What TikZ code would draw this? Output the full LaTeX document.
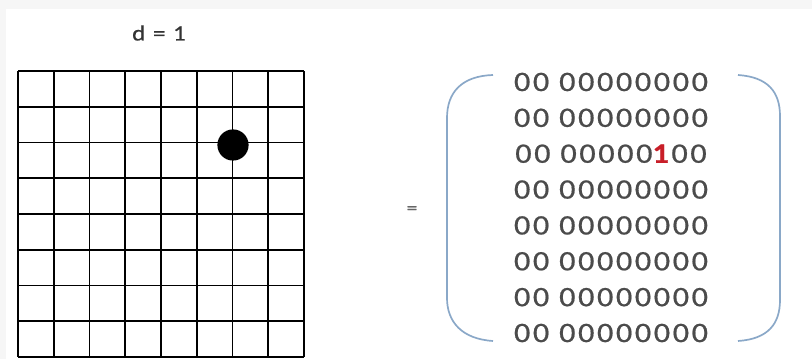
\documentclass[tikz,border=0pt]{standalone}
\usepackage{fontspec}
\setmainfont{Carlito}
\newfontfamily\wideFont[FakeStretch=1.15, LetterSpace=9, FakeBold=0.6]{Carlito}
\usepackage{xcolor}
\definecolor{bracketBlue}{RGB}{138,168,200}
\definecolor{digitGrey}{RGB}{75,75,75}
\definecolor{oneRed}{RGB}{200,30,40}
\definecolor{edgeGrey}{RGB}{246,246,246}

\begin{document}
\begin{tikzpicture}[
    x=0.025cm, y=-0.025cm,
    gridLine/.style={line width=1.4pt, black},
    bracket/.style={line width=1.2pt, bracketBlue},
    digits/.style={font=\wideFont\fontsize{20}{21}\selectfont, text=digitGrey, inner sep=0pt, anchor=center},
    label/.style={font=\wideFont\fontsize{15.5}{16}\selectfont, text=black!80, inner sep=0pt}
]
    % Background
    \fill[edgeGrey] (0,0) rectangle (812,359);
    \fill[white] (6,9) rectangle (812,359);
    \useasboundingbox (0,0) rectangle (812,359);

    % Title
    \node[label] (title) at (159,33) {d = 1};

    % Board (8x8 grid)
    \foreach \k in {0,...,8} {
        \draw[gridLine] ({18+35.75*\k},71) -- ({18+35.75*\k},357.5);
        \draw[gridLine] (18,{71+35.75*\k}) -- (304,{71+35.75*\k});
    }
    \node[circle, fill=black, inner sep=0pt, minimum size=0.78cm] (stone) at (233,145) {};

    % Equals sign
    \node[font=\wideFont\fontsize{13}{14}\selectfont, text=black!60, inner sep=0pt] (eq) at (412,210) {=};

    % Matrix rows
    \foreach \r [count=\i from 0] in {{00 00000000},{00 00000000},{00 00000\textcolor{oneRed}{\textbf{1}}00},{00 00000000},{00 00000000},{00 00000000},{00 00000000},{00 00000000}} {
        \node[digits] (row\i) at (611,{82+35.86*\i}) {\r};
    }

    % Brackets
    \draw[bracket] (493,75) .. controls (462,76) and (447,92) .. (447,118) -- (447,298) .. controls (447,322) and (462,339) .. (493,341);
    \draw[bracket] (738,75) .. controls (768,77) and (780,92) .. (780,116) -- (780,300) .. controls (780,324) and (768,339) .. (738,341);
\end{tikzpicture}
\end{document}
